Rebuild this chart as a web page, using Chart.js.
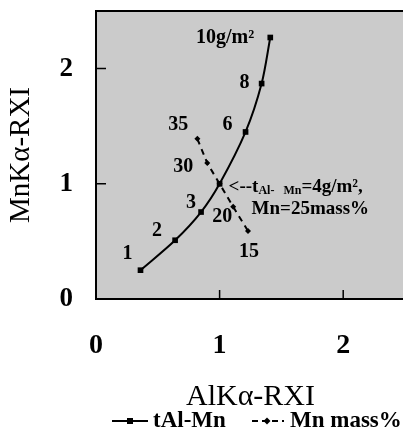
<!DOCTYPE html>
<html>
<head>
<meta charset="utf-8">
<script src="https://cdn.jsdelivr.net/npm/chart.js@4.4.1/dist/chart.umd.min.js"></script>
<style>
  html, body { margin: 0; padding: 0; background: #fff; overflow: hidden; }
  #wrap { width: 412px; height: 443px; position: relative; }
</style>
</head>
<body>
<div id="wrap"><canvas id="chart"></canvas></div>
<script>
/* ================= DATA ================= */
// tAl-Mn series (coating weight, g/m2)
const tAlX = [0.36, 0.64, 0.85, 1.00, 1.21, 1.34, 1.41];
const tAlY = [0.25, 0.51, 0.755, 1.00, 1.45, 1.87, 2.27];
const tAlLabels = ["1", "2", "3", "", "6", "8", "10g/m\u00b2"];

// Mn mass% series
const mnX = [0.82, 0.90, 1.00, 1.11, 1.23];
const mnY = [1.39, 1.18, 1.00, 0.80, 0.59];
const mnLabels = ["35", "30", "", "20", "15"];

const xTicks = [0, 1, 2];
const yTicks = [0, 1, 2];

/* ================= LABEL PLACEMENT (px offsets from point) ================= */
const tAlOffsets = [[-13, -16], [-18, -9], [-10, -9], [0, 0], [-18, -7], [-17, -1], [-16, 0]];
const mnOffsets = [[-19, -14], [-24, 4], [0, 0], [-11, 10], [1, 21]];

const FONT = "'Liberation Serif', 'Times New Roman', serif";

/* ================= PLUGIN: frame, inner ticks, labels, legend ================= */
const decor = {
    id: "decor",
    beforeDraw(chart) {
        const { ctx, chartArea: a } = chart;
        ctx.save();
        ctx.fillStyle = "#cbcbcb";
        ctx.fillRect(a.left, a.top, a.right - a.left, a.bottom - a.top);
        ctx.restore();
    },
    afterDraw(chart) {
        const { ctx, chartArea: a, scales } = chart;
        ctx.save();

        /* frame */
        ctx.strokeStyle = "#000";
        ctx.lineWidth = 2;
        ctx.strokeRect(a.left, a.top, a.right - a.left, a.bottom - a.top);

        /* inward ticks */
        ctx.lineWidth = 1.5;
        ctx.beginPath();
        xTicks.forEach(v => {
            if (v === 0) return;
            const px = scales.x.getPixelForValue(v);
            ctx.moveTo(px, a.bottom);
            ctx.lineTo(px, a.bottom - 9);
        });
        yTicks.forEach(v => {
            if (v === 0) return;
            const py = scales.y.getPixelForValue(v);
            ctx.moveTo(a.left, py);
            ctx.lineTo(a.left + 10, py);
        });
        ctx.stroke();

        /* point labels */
        ctx.fillStyle = "#000";
        ctx.font = "bold 20px " + FONT;
        ctx.textBaseline = "middle";
        const m0 = chart.getDatasetMeta(0).data;
        tAlLabels.forEach((t, i) => {
            if (!t) return;
            const p = m0[i];
            ctx.textAlign = i === tAlLabels.length - 1 ? "right" : "center";
            ctx.fillText(t, p.x + tAlOffsets[i][0], p.y + tAlOffsets[i][1]);
        });
        const m1 = chart.getDatasetMeta(1).data;
        mnLabels.forEach((t, i) => {
            if (!t) return;
            const p = m1[i];
            ctx.textAlign = "center";
            ctx.fillText(t, p.x + mnOffsets[i][0], p.y + mnOffsets[i][1]);
        });

        /* annotation at the crossing point */
        const c = m0[3];
        ctx.textAlign = "left";
        let x = c.x + 9;
        const y = c.y + 3;
        ctx.font = "bold 19px " + FONT;
        ctx.fillText("<--t", x, y);
        x += ctx.measureText("<--t").width;
        ctx.font = "bold 12px " + FONT;
        ctx.fillText("Al-   Mn", x, y + 4);
        x += ctx.measureText("Al-   Mn").width;
        ctx.font = "bold 19px " + FONT;
        ctx.fillText("=4g/m\u00b2,", x, y);
        ctx.fillText("Mn=25mass%", c.x + 32, c.y + 25);

        /* legend */
        const ly = 421;
        ctx.strokeStyle = "#000";
        ctx.lineWidth = 2;
        ctx.setLineDash([]);
        ctx.beginPath();
        ctx.moveTo(112, ly); ctx.lineTo(148, ly);
        ctx.stroke();
        ctx.fillRect(127, ly - 3, 6, 6);
        ctx.setLineDash([6, 4]);
        ctx.beginPath();
        ctx.moveTo(252, ly); ctx.lineTo(284, ly);
        ctx.stroke();
        ctx.setLineDash([]);
        ctx.beginPath();
        ctx.moveTo(267, ly - 3.5); ctx.lineTo(270.5, ly); ctx.lineTo(267, ly + 3.5); ctx.lineTo(263.5, ly);
        ctx.closePath();
        ctx.fill();
        ctx.font = "bold 23px " + FONT;
        ctx.fillText("tAl-Mn", 153, ly);
        ctx.fillText("Mn mass%", 290, ly);

        ctx.restore();
    }
};

/* ================= CHART ================= */
new Chart(document.getElementById("chart"), {
    type: "scatter",
    data: {
        datasets: [
            {
                label: "tAl-Mn",
                data: tAlX.map((x, i) => ({ x, y: tAlY[i] })),
                showLine: true,
                tension: 0.3,
                borderColor: "#000",
                backgroundColor: "#000",
                borderWidth: 2,
                pointStyle: "rect",
                pointRadius: 4,
                pointBorderWidth: 0
            },
            {
                label: "Mn mass%",
                data: mnX.map((x, i) => ({ x, y: mnY[i] })),
                showLine: true,
                borderColor: "#000",
                backgroundColor: "#000",
                borderWidth: 2,
                borderDash: [6, 5],
                pointStyle: "rectRot",
                pointRadius: 3,
                pointBorderWidth: 0
            }
        ]
    },
    options: {
        responsive: true,
        maintainAspectRatio: false,
        animation: false,
        layout: { padding: { top: 11, right: 7, bottom: 28, left: 0 } },
        plugins: { legend: { display: false }, tooltip: { enabled: false } },
        scales: {
            x: {
                min: 0, max: 2.5,
                afterBuildTicks: s => { s.ticks = xTicks.map(v => ({ value: v })); },
                afterFit: s => { s.height = 116; s.paddingLeft = 0; s.paddingRight = 0; },
                ticks: { autoSkip: false, maxRotation: 0, padding: 30, color: "#000", font: { family: FONT, size: 28, weight: "bold" } },
                grid: { display: false, drawTicks: false },
                border: { display: false },
                title: {
                    display: true, text: "AlK\u03b1-RXI", color: "#000",
                    font: { family: FONT, size: 30 }, padding: { top: 0, bottom: 0 }
                }
            },
            y: {
                min: 0, max: 2.5,
                afterBuildTicks: s => { s.ticks = yTicks.map(v => ({ value: v })); },
                afterFit: s => { s.width = 96; s.paddingTop = 0; s.paddingBottom = 0; },
                ticks: { autoSkip: false, padding: 23, color: "#000", font: { family: FONT, size: 27, weight: "bold" } },
                grid: { display: false, drawTicks: false },
                border: { display: false },
                title: {
                    display: true, text: "MnK\u03b1-RXI", color: "#000",
                    font: { family: FONT, size: 29 }, padding: { top: 4, bottom: 0 }
                }
            }
        }
    },
    plugins: [decor]
});
</script>
</body>
</html>
